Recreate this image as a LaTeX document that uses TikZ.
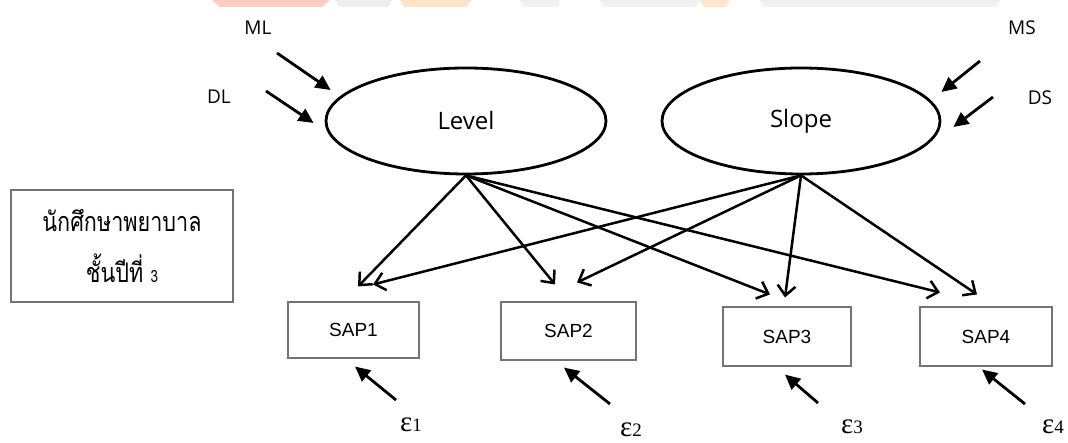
\documentclass[tikz,border=0pt]{standalone}
\usepackage{fontspec}
\setmainfont{Open Sans}
\newfontfamily\thaifont[Script=Thai,FakeStretch=0.8]{Loma}
\newfontfamily\arialfont{Liberation Sans}
\newfontfamily\greekserif{Liberation Serif}
\usetikzlibrary{arrows.meta,shapes.geometric,calc}

\begin{document}
\begin{tikzpicture}[x=1pt,y=-1pt,
  latent/.style={ellipse,draw,line width=2.8pt,minimum height=106pt,inner sep=0pt,
    font=\fontsize{24}{28}\selectfont},
  indicator/.style={draw=black!55,line width=1.1pt,inner sep=0pt,
    font=\arialfont\fontsize{19}{22}\selectfont},
  groupbox/.style={draw=black!55,line width=1.3pt,inner sep=0pt,align=center,
    minimum width=222pt,minimum height=112pt,
    font=\thaifont\fontsize{27}{51}\selectfont},
  loading/.style={line width=2.5pt,-{Straight Barb[length=10pt,width=18pt,line width=2.5pt]}},
  pointer/.style={line width=2.8pt,-{Triangle[length=15pt,width=14pt]}},
  lbl/.style={inner sep=0pt,font=\fontsize{19}{22}\selectfont},
  errlbl/.style={inner sep=0pt,font=\greekserif\fontsize{29}{30}\selectfont}
]
\useasboundingbox (0,0) rectangle (1068,443);

% faint logo band along the top edge
\begin{scope}[opacity=0.55]
  \fill[orange!45!red!45] (212,0) -- (330,0) -- (322,7) -- (220,7) -- cycle;
  \fill[black!12] (335,0) -- (392,0) -- (388,7) -- (340,7) -- cycle;
  \fill[orange!40] (400,0) -- (472,0) -- (466,7) -- (404,7) -- cycle;
  \fill[black!10] (520,0) -- (560,0) -- (558,7) -- (524,7) -- cycle;
  \fill[black!10] (600,0) -- (700,0) -- (696,7) -- (604,7) -- cycle;
  \fill[orange!35] (700,0) -- (730,0) -- (726,7) -- (704,7) -- cycle;
  \fill[black!10] (760,0) -- (1000,0) -- (996,7) -- (764,7) -- cycle;
\end{scope}

% latent factors
\node[latent,minimum width=280pt] (lev) at (466,121) {Level};
\node[latent,minimum width=278pt] (slo) at (801,121) {Slope};

% observed measures
\node[indicator,minimum width=131pt,minimum height=56pt] (sap1) at (353.5,330) {SAP1};
\node[indicator,minimum width=135pt,minimum height=58pt] (sap2) at (568.5,331) {SAP2};
\node[indicator,minimum width=128pt,minimum height=59pt] (sap3) at (787,336.5) {SAP3};
\node[indicator,minimum width=132pt,minimum height=59pt] (sap4) at (986,336.5) {SAP4};

% group label
\node[groupbox] (grp) at (122,246)
  {นักศึกษาพยาบาล\\ชั้นปีที่ {\fontsize{17}{20}\selectfont 3}};

% mean and variance labels
\node[lbl] (ml) at (258,28) {ML};
\node[lbl] (dl) at (219,97) {DL};
\node[lbl] (ms) at (1022,28) {MS};
\node[lbl] (ds) at (1040,98) {DS};

% residual labels
\node[errlbl] (e1) at (411,425) {ε{\fontsize{19}{20}\selectfont 1}};
\node[errlbl] (e2) at (631,430) {ε{\fontsize{19}{20}\selectfont 2}};
\node[errlbl] (e3) at (852,427) {ε{\fontsize{19}{20}\selectfont 3}};
\node[errlbl] (e4) at (1053,427) {ε{\fontsize{19}{20}\selectfont 4}};

% inputs to the latent factors
\draw[pointer] ($(ml)+(19,25)$) -- ($(lev.west)+(6,-31)$);
\draw[pointer] ($(dl)+(47,-6)$) -- ($(lev.west)+(-11,2)$);
\draw[pointer] ($(ms)+(-42,33)$) -- ($(slo.east)+(0,-29)$);
\draw[pointer] ($(ds)+(-47,-1)$) -- ($(slo.east)+(12,6)$);

% factor loadings
\draw[loading] (lev.south) -- ($(sap1.north)+(4.5,-15)$);
\draw[loading] (slo.south) -- ($(sap1.north)+(19.5,-17)$);
\draw[loading] (lev.south) -- ($(sap2.north)+(-13.5,-17)$);
\draw[loading] (slo.south) -- ($(sap2.north)+(8.5,-19)$);
\draw[loading] (lev.south) -- ($(sap3.north)+(-17,-12)$);
\draw[loading] (slo.south) -- ($(sap3.north)+(-2,-9)$);
\draw[loading] (lev.south) -- ($(sap4.north)+(-46,-14)$);
\draw[loading] (slo.south) -- ($(sap4.north)+(-9,-12)$);

% residuals
\draw[pointer] ($(e1)+(-15,-25)$) -- ($(sap1.south)+(1.5,8)$);
\draw[pointer] ($(e2)+(-21,-26)$) -- ($(sap2.south)+(-4.5,7)$);
\draw[pointer] ($(e3)+(-34,-24)$) -- ($(sap3.south)+(-2,8)$);
\draw[pointer] ($(e4)+(-28,-23)$) -- ($(sap4.south)+(-4,3)$);
\end{tikzpicture}
\end{document}
